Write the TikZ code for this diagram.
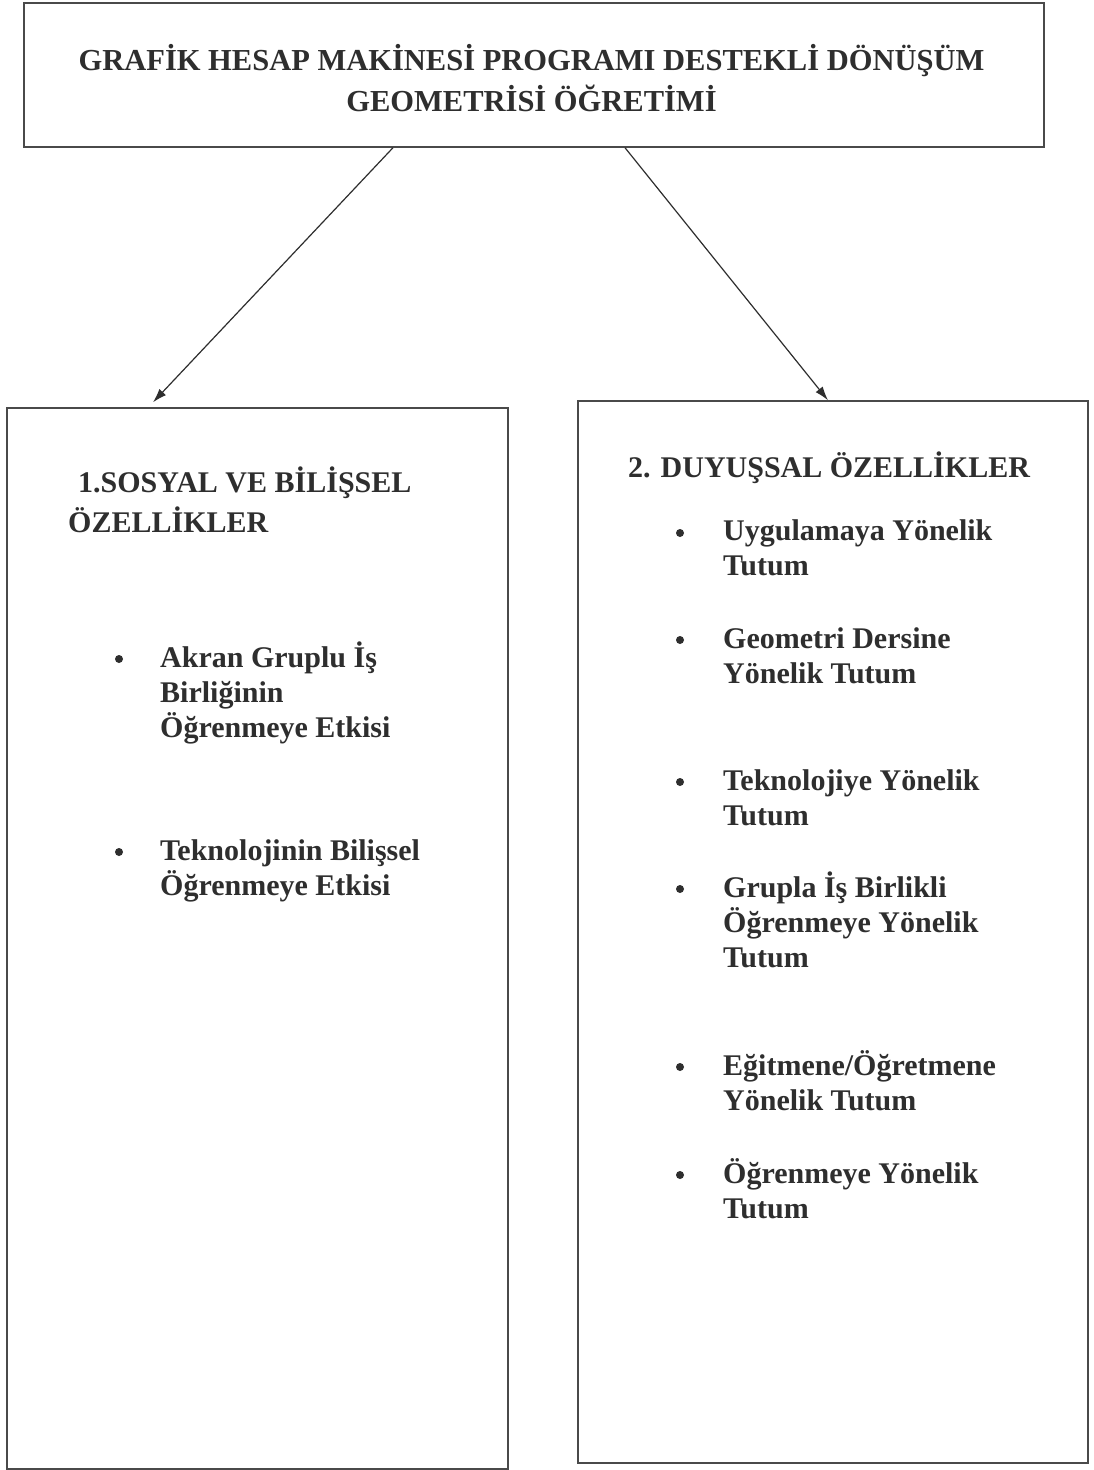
\documentclass[tikz,border=0pt]{standalone}
\usepackage{fontspec}
\setmainfont{Liberation Serif}
\usetikzlibrary{arrows.meta}
\definecolor{ink}{HTML}{2E2E2E}
\definecolor{boxline}{HTML}{4A4A4A}
\begin{document}
\begin{tikzpicture}[x=1pt,y=-1pt,
  panel/.style={draw=boxline,line width=1.4pt,inner sep=0pt,fill=none},
  titletext/.style={font=\bfseries\fontsize{30.5}{41}\selectfont,text=ink,align=center,inner sep=0pt,anchor=base},
  headtext/.style={font=\bfseries\fontsize{30}{40}\selectfont,text=ink,align=left,inner sep=0pt,anchor=base west},
  itemtext/.style={font=\bfseries\fontsize{30}{35}\selectfont,text=ink,align=left,inner sep=0pt,anchor=base west},
  dot/.style={circle,fill=ink,inner sep=0pt,minimum size=8pt},
  link/.style={draw=ink,line width=1.2pt,-{Latex[length=14pt,width=9pt]}}]
\useasboundingbox (0,0) rectangle (1093,1470);
\fill[white] (0,0) rectangle (1093,1470);
% panels
\node[panel,minimum width=1020pt,minimum height=144pt] (top) at (534,75) {};
\node[panel,minimum width=501pt,minimum height=1061pt] (left) at (257.5,938.5) {};
\node[panel,minimum width=510pt,minimum height=1062pt] (right) at (833,932) {};
% title (anchor = baseline of last line)
\node[titletext] (title) at (531.5,111) {GRAFİK HESAP MAKİNESİ PROGRAMI DESTEKLİ DÖNÜŞÜM\\GEOMETRİSİ ÖĞRETİMİ};
% arrows
\draw[link] ([xshift=-141pt]top.south) -- ([xshift=-104.5pt,yshift=5pt]left.north);
\draw[link] ([xshift=91pt]top.south) -- ([xshift=-5pt]right.north);
% left panel
\node[headtext] (lhead) at (68,532) {\hspace*{10pt}1.SOSYAL VE BİLİŞSEL\\ÖZELLİKLER};
\node[itemtext] (l1) at (160,737) {Akran Gruplu İş\\Birliğinin\\Öğrenmeye Etkisi};
\node[itemtext] (l2) at (160,895) {Teknolojinin Bilişsel\\Öğrenmeye Etkisi};
\node[dot] (b1) at (119,659) {};
\node[dot] (b2) at (119,852) {};
% right panel
\node[headtext] (rhead) at (628,477) {2. DUYUŞSAL ÖZELLİKLER};
\node[itemtext] (r1) at (723,575) {Uygulamaya Yönelik\\Tutum};
\node[itemtext] (r2) at (723,683) {Geometri Dersine\\Yönelik Tutum};
\node[itemtext] (r3) at (723,825) {Teknolojiye Yönelik\\Tutum};
\node[itemtext] (r4) at (723,967) {Grupla İş Birlikli\\Öğrenmeye Yönelik\\Tutum};
\node[itemtext] (r5) at (723,1110) {Eğitmene/Öğretmene\\Yönelik Tutum};
\node[itemtext] (r6) at (723,1218) {Öğrenmeye Yönelik\\Tutum};
\node[dot] (c1) at (680,533) {};
\node[dot] (c2) at (680,640) {};
\node[dot] (c3) at (680,782) {};
\node[dot] (c4) at (680,889) {};
\node[dot] (c5) at (680,1067) {};
\node[dot] (c6) at (680,1175) {};
\end{tikzpicture}
\end{document}
